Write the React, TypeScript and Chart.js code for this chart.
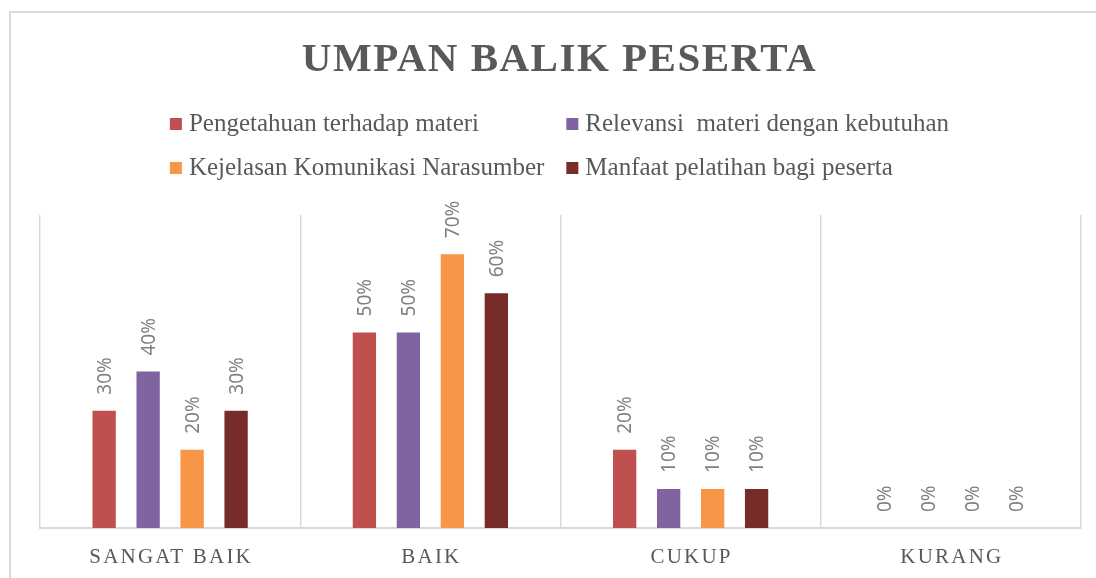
import React, { useEffect, useRef } from "react";
import { Chart, registerables } from "chart.js";

Chart.register(...registerables);

const chartTitle = "UMPAN BALIK PESERTA";
const categories = ["SANGAT BAIK", "BAIK", "CUKUP", "KURANG"];
const seriesNames = [
  "Pengetahuan terhadap materi",
  "Relevansi  materi dengan kebutuhan",
  "Kejelasan Komunikasi Narasumber",
  "Manfaat pelatihan bagi peserta",
];
const pengetahuan = [30, 50, 20, 0];
const relevansi = [40, 50, 10, 0];
const kejelasan = [20, 70, 10, 0];
const manfaat = [30, 60, 10, 0];
const seriesColors = ["#C0504D", "#8064A2", "#F79646", "#772C2A"];
const yMax = 80;

const TEXT_GRAY = "#595959";
const LABEL_GRAY = "#7f7f7f";
const LINE_GRAY = "#d9d9d9";

const decorPlugin = {
  id: "decor",
  beforeDraw(chart: any) {
    const ctx = chart.ctx;
    ctx.save();
    ctx.fillStyle = "#ffffff";
    ctx.fillRect(0, 0, chart.width, chart.height);
    ctx.strokeStyle = LINE_GRAY;
    ctx.lineWidth = 2;
    ctx.beginPath();
    ctx.moveTo(10, chart.height + 5);
    ctx.lineTo(10, 12);
    ctx.lineTo(chart.width + 5, 12);
    ctx.stroke();
    ctx.restore();
  },
  afterDatasetsDraw(chart: any) {
    const ctx = chart.ctx;
    ctx.save();
    ctx.font = "19px 'Noto Sans'";
    ctx.fillStyle = LABEL_GRAY;
    ctx.textAlign = "left";
    ctx.textBaseline = "middle";
    chart.data.datasets.forEach((ds: any, i: number) => {
      const meta = chart.getDatasetMeta(i);
      meta.data.forEach((bar: any, j: number) => {
        const v = ds.data[j];
        ctx.save();
        ctx.translate(bar.x + 1, bar.y - 16);
        ctx.rotate(-Math.PI / 2);
        ctx.fillText(v + "%", 0, 0);
        ctx.restore();
      });
    });
    ctx.restore();
  },
  afterDraw(chart: any) {
    const ctx = chart.ctx;
    const area = chart.chartArea;
    const cx = (area.left + area.right) / 2 - 2;
    ctx.save();
    // Title
    ctx.font = "bold 41px 'Liberation Serif'";
    (ctx as any).letterSpacing = "1.5px";
    ctx.fillStyle = TEXT_GRAY;
    ctx.textAlign = "center";
    ctx.textBaseline = "alphabetic";
    ctx.fillText(chartTitle, cx + 1, 71);

    // Legend (2 columns)
    (ctx as any).letterSpacing = "0px";
    ctx.font = "25px 'Liberation Serif'";
    ctx.textAlign = "left";
    const box = 12;
    const boxGap = 7;
    const colGap = 22;
    const rowH = 44;
    const colW = [0, 0];
    chart.data.datasets.forEach((ds: any, i: number) => {
      const w = box + boxGap + ctx.measureText(ds.label).width;
      colW[i % 2] = Math.max(colW[i % 2], w);
    });
    const total = colW[0] + colGap + colW[1];
    const startX = cx + 1 - total / 2;
    chart.data.datasets.forEach((ds: any, i: number) => {
      const c = i % 2;
      const r = Math.floor(i / 2);
      const x = startX + (c === 0 ? 0 : colW[0] + colGap);
      const top = 118 + r * rowH;
      ctx.fillStyle = ds.backgroundColor;
      ctx.fillRect(x, top, box, box);
      ctx.fillStyle = TEXT_GRAY;
      ctx.fillText(ds.label, x + box + boxGap, top + 13);
    });

    // Category labels
    const xs = chart.scales.x;
    ctx.font = "21px 'Liberation Serif'";
    (ctx as any).letterSpacing = "2.2px";
    ctx.textAlign = "center";
    ctx.textBaseline = "alphabetic";
    ctx.fillStyle = TEXT_GRAY;
    chart.data.labels.forEach((lab: string, i: number) => {
      const x = xs.getPixelForValue(i) + 1;
      ctx.fillText(lab, x, area.bottom + 35);
    });
    (ctx as any).letterSpacing = "0px";
    ctx.restore();
  },
};

export default function App() {
  const ref = useRef<HTMLCanvasElement | null>(null);
  useEffect(() => {
    if (!ref.current) return;
    const series = [pengetahuan, relevansi, kejelasan, manfaat];
    const chart = new Chart(ref.current, {
      type: "bar",
      data: {
        labels: categories,
        datasets: series.map((d, i) => ({
          label: seriesNames[i],
          data: d,
          backgroundColor: seriesColors[i],
          borderWidth: 0,
          categoryPercentage: 0.676,
          barPercentage: 0.53,
        })),
      },
      options: {
        responsive: false,
        animation: false,
        layout: { padding: { top: 215, left: 40, right: 15, bottom: 50 } },
        plugins: {
          legend: { display: false },
          title: { display: false },
          tooltip: { enabled: false },
        },
        scales: {
          x: {
            grid: {
              display: true,
              offset: true,
              color: LINE_GRAY,
              lineWidth: 1.5,
              drawTicks: false,
            },
            border: { display: true, color: LINE_GRAY, width: 2 },
            ticks: { display: false },
          },
          y: {
            display: false,
            min: 0,
            max: yMax,
          },
        },
      },
      plugins: [decorPlugin],
    });
    return () => chart.destroy();
  }, []);
  return (
    <div style={{ position: "absolute", left: 0, top: 0, width: 1096, height: 578 }}>
      <canvas ref={ref} width={1096} height={578} style={{ display: "block" }} />
    </div>
  );
}
